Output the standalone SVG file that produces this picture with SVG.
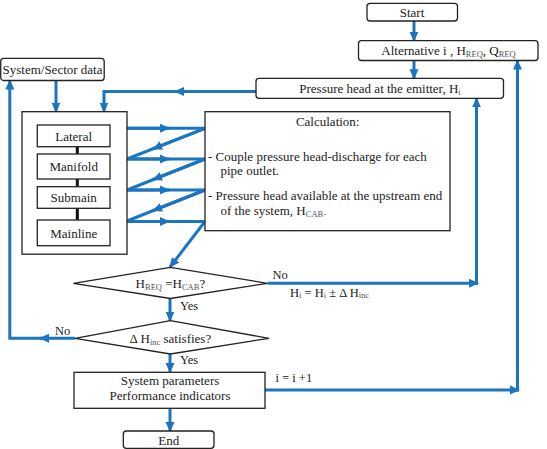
<svg xmlns="http://www.w3.org/2000/svg" width="547" height="449" viewBox="0 0 547 449">
  <style>
    .box { fill: #ffffff; stroke: #222222; stroke-width: 1.3; }
    .link { fill: none; stroke: #1c75c0; stroke-width: 3; }
    .bar { stroke: #111111; stroke-width: 3; }
    text { font-family: "Liberation Serif", "Times New Roman", serif; font-size: 13px; fill: #222222; }
    .c { text-anchor: middle; }
    .sub { font-size: 8.5px; fill: #555555; }
    .lbl { font-size: 12.5px; }
  </style>
  <defs>
    <marker id="ah" markerUnits="userSpaceOnUse" markerWidth="10" markerHeight="10" viewBox="0 0 10 10" refX="9" refY="5" orient="auto">
      <path d="M0,0.5 L10,5 L0,9.5 z" fill="#1c75c0"/>
    </marker>
  </defs>

  <rect width="547" height="449" fill="#ffffff"/>

  <!-- connectors -->
  <g id="connectors">
    <path class="link" d="M414,21 V40.7" marker-end="url(#ah)"/>
    <path class="link" d="M414,60.5 V78.3" marker-end="url(#ah)"/>
    <!-- emitter head back to the pipe network -->
    <path class="link" d="M256,91.5 H104 V111.7" marker-end="url(#ah)"/>
    <path class="link" d="M256,91.5 H175" marker-end="url(#ah)"/>
    <path class="link" d="M56,80.5 V111.7" marker-end="url(#ah)"/>

    <!-- zigzag between the pipe levels and the calculation -->
    <path class="link" d="M127,128.3 H205"/>
    <path class="link" d="M127,128.3 H169" marker-end="url(#ah)"/>
    <path class="link" d="M205,128.3 L127,159"/>
    <path class="link" d="M205,128.3 L153,148.8" marker-end="url(#ah)"/>
    <path class="link" d="M127,159 H205"/>
    <path class="link" d="M127,159 H169" marker-end="url(#ah)"/>
    <path class="link" d="M205,159 L127,190"/>
    <path class="link" d="M205,159 L153,179.7" marker-end="url(#ah)"/>
    <path class="link" d="M127,190 H205"/>
    <path class="link" d="M127,190 H169" marker-end="url(#ah)"/>
    <path class="link" d="M205,190 L127,221"/>
    <path class="link" d="M205,190 L153,210.7" marker-end="url(#ah)"/>
    <path class="link" d="M127,221.5 H205"/>
    <path class="link" d="M127,221.5 H169" marker-end="url(#ah)"/>
    <path class="link" d="M205,221.5 L170,267" marker-end="url(#ah)"/>

    <!-- main vertical flow -->
    <path class="link" d="M170,298.5 V320.7" marker-end="url(#ah)"/>
    <path class="link" d="M170,354 V372" marker-end="url(#ah)"/>
    <path class="link" d="M170,408.3 V431" marker-end="url(#ah)"/>

    <!-- No: new emitter head -->
    <path class="link" d="M267.5,283.3 H478" marker-end="url(#ah)"/>
    <path class="link" d="M476.5,284.8 V98.3" marker-end="url(#ah)"/>

    <!-- No: back to system data -->
    <path class="link" d="M75,338.3 H40" marker-end="url(#ah)"/>
    <path class="link" d="M42,338.3 H9.8 V80.5" marker-end="url(#ah)"/>

    <!-- next alternative -->
    <path class="link" d="M265,390 H519" marker-end="url(#ah)"/>
    <path class="link" d="M517.5,391.5 V60.5" marker-end="url(#ah)"/>
  </g>

  <g id="start">
    <rect class="box" x="367" y="3.3" width="90.5" height="17.7" rx="3"/>
    <text class="c" x="412" y="17">Start</text>
  </g>

  <g id="alternative">
    <rect class="box" x="358.5" y="40.7" width="179.5" height="19.8" rx="3"/>
    <text class="c" x="448.5" y="55">Alternative i , H<tspan class="sub" dy="1.5">REQ</tspan><tspan dy="-1.5">, Q</tspan><tspan class="sub" dy="1.5">REQ</tspan></text>
  </g>

  <g id="sector-data">
    <rect class="box" x="0.7" y="58.3" width="103.5" height="22.2" rx="3"/>
    <text class="c" x="52.5" y="74">System/Sector data</text>
  </g>

  <g id="emitter-head">
    <rect class="box" x="256" y="78.3" width="247.5" height="20" rx="3"/>
    <text class="c" x="380" y="93">Pressure head at the emitter, H<tspan class="sub" dy="1.5">i</tspan></text>
  </g>

  <g id="pipe-network">
    <rect class="box" x="22" y="111.7" width="105" height="142.5"/>
    <line class="bar" x1="77.3" y1="146.7" x2="77.3" y2="154"/>
    <line class="bar" x1="77.3" y1="179" x2="77.3" y2="186.7"/>
    <line class="bar" x1="77.3" y1="208.3" x2="77.3" y2="220"/>
    <g id="lateral">
      <rect class="box" x="37.3" y="125" width="72.7" height="21.7"/>
      <text class="c" x="73.7" y="140.5">Lateral</text>
    </g>
    <g id="manifold">
      <rect class="box" x="37.3" y="154" width="72.7" height="25"/>
      <text class="c" x="73.7" y="171">Manifold</text>
    </g>
    <g id="submain">
      <rect class="box" x="37.3" y="186.7" width="72.7" height="21.6"/>
      <text class="c" x="73.7" y="202">Submain</text>
    </g>
    <g id="mainline">
      <rect class="box" x="37.3" y="220" width="72.7" height="25.7"/>
      <text class="c" x="73.7" y="237.5">Mainline</text>
    </g>
  </g>

  <g id="calculation">
    <rect class="box" x="205" y="111.7" width="245" height="119"/>
    <text class="c" x="327.7" y="126">Calculation:</text>
    <text x="208" y="160.5">- Couple pressure head-discharge for each</text>
    <text x="220.5" y="175">pipe outlet.</text>
    <text x="208" y="200">- Pressure head available at the upstream end</text>
    <text x="220.5" y="215">of the system, H<tspan class="sub" dy="1.5">CAB-</tspan></text>
  </g>

  <g id="head-check">
    <polygon class="box" points="73.4,283.3 170.4,267.3 267.5,283.3 170.4,298.5"/>
    <text class="c" x="170.4" y="288.3">H<tspan class="sub" dy="1.5">REQ</tspan><tspan dy="-1.5"> =H</tspan><tspan class="sub" dy="1.5">CAB</tspan><tspan dy="-1.5">?</tspan></text>
  </g>

  <g id="increment-check">
    <polygon class="box" points="75,338.3 170.4,320.7 269,338.3 170.4,354"/>
    <text class="c" x="170.4" y="343.3">Δ H<tspan class="sub" dy="1.5">inc</tspan><tspan dy="-1.5"> satisfies?</tspan></text>
  </g>

  <g id="results">
    <rect class="box" x="74" y="372.3" width="191" height="36"/>
    <text class="c" x="170" y="385">System parameters</text>
    <text class="c" x="170" y="399.5">Performance indicators</text>
  </g>

  <g id="end">
    <rect class="box" x="123.3" y="431" width="90.7" height="17.3" rx="3"/>
    <text class="c" x="168.7" y="444.5">End</text>
  </g>

  <g id="labels">
    <text class="lbl" x="272.5" y="279">No</text>
    <text class="lbl" x="290" y="296.7">H<tspan class="sub" dy="1.5">i</tspan><tspan dy="-1.5"> = H</tspan><tspan class="sub" dy="1.5">i</tspan><tspan dy="-1.5"> ± Δ H</tspan><tspan class="sub" dy="1.5">inc</tspan></text>
    <text class="lbl" x="180" y="310">Yes</text>
    <text class="lbl" x="55" y="335">No</text>
    <text class="lbl" x="180" y="364.3">Yes</text>
    <text class="lbl" x="275.5" y="381.7">i = i +1</text>
  </g>
</svg>
